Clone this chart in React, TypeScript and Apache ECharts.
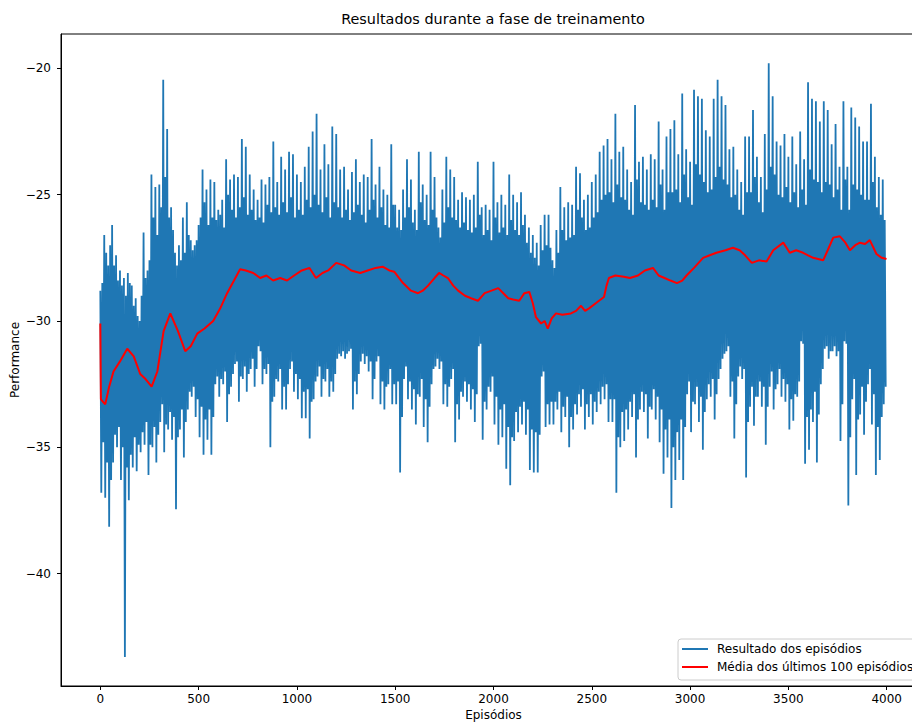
import React, { useEffect, useRef } from 'react';
import * as echarts from 'echarts';

const chartTitle = 'Resultados durante a fase de treinamento';
const xAxisName = 'Episódios';
const yAxisName = 'Performance';
const seriesNames = ['Resultado dos episódios', 'Média dos últimos 100 episódios'];

const xTicks = [0, 500, 1000, 1500, 2000, 2500, 3000, 3500, 4000];
const yTicks = [-40, -35, -30, -25, -20];

// Blue series readings, one group of four per 20 episodes:
// highA at ep 20i, lowA at 20i+5, highB at 20i+10, lowB at 20i+15
const blueStep = 20;
const highA = [
  -28.8, -26.6, -27.8, -26.2, -27.4,
  -28.0, -28.3, -28.1, -28.6, -29.1,
  -30.0, -26.5, -28.0, -24.2, -24.7,
  -24.6, -20.45, -22.4, -25.5, -27.3,
  -27.0, -25.9, -25.3, -26.8, -27.0,
  -26.2, -24.0, -24.8, -24.4, -24.5,
  -25.6, -25.2, -23.6, -24.4, -24.2,
  -24.3, -22.8, -23.1, -24.2, -24.8,
  -25.2, -24.4, -24.6, -24.3, -22.9,
  -24.5, -23.5, -24.0, -23.3, -23.4,
  -24.2, -24.5, -23.9, -23.1, -22.5,
  -21.8, -24.0, -23.0, -23.8, -22.3,
  -22.6, -24.0, -23.9, -24.8, -24.1,
  -23.6, -24.5, -24.2, -24.3, -22.8,
  -24.6, -23.9, -24.8, -25.0, -23.0,
  -25.4, -25.6, -24.8, -23.6, -24.4,
  -25.6, -23.3, -24.6, -25.0, -23.3,
  -24.3, -26.3, -24.8, -23.5, -24.0,
  -24.3, -25.2, -24.9, -25.1, -25.2,
  -25.0, -23.7, -25.5, -25.4, -25.6,
  -23.7, -25.3, -25.0, -25.4, -24.2,
  -25.0, -25.3, -24.9, -25.8, -26.3,
  -26.6, -26.9, -26.2, -25.8, -25.8,
  -27.6, -26.4, -24.7, -25.5, -25.3,
  -25.4, -23.9, -24.15, -25.2, -25.0,
  -24.5, -24.2, -23.3, -23.05, -22.8,
  -23.6, -21.8, -23.3, -23.1, -24.0,
  -24.5, -21.45, -23.7, -23.5, -24.0,
  -23.4, -23.6, -22.1, -24.0, -22.7,
  -22.4, -22.05, -23.4, -21.0, -23.2,
  -23.7, -20.85, -21.1, -21.2, -22.45,
  -22.7, -21.2, -20.45, -21.1, -21.45,
  -23.2, -23.1, -24.0, -24.5, -22.7,
  -22.7, -21.65, -23.5, -24.3, -22.6,
  -19.8, -21.1, -22.9, -23.05, -22.6,
  -23.5, -22.7, -23.8, -22.5, -23.6,
  -20.55, -21.2, -21.3, -22.1, -21.3,
  -21.65, -23.0, -22.2, -23.9, -21.3,
  -23.9, -21.55, -21.95, -22.3, -22.9,
  -22.9, -21.4, -23.5, -24.3, -24.4,
];
const lowA = [
  -36.8, -37.0, -38.15, -35.6, -35.0,
  -36.3, -43.3, -37.1, -35.8, -35.95,
  -35.2, -34.9, -36.1, -35.0, -35.6,
  -34.0, -35.2, -34.3, -34.7, -37.45,
  -34.3, -35.4, -33.5, -33.0, -33.8,
  -34.6, -35.3, -34.7, -35.3, -32.5,
  -33.0, -32.5, -34.0, -32.6, -31.7,
  -33.2, -32.3, -32.8, -31.9, -32.6,
  -31.0, -32.5, -32.1, -35.0, -33.0,
  -32.4, -33.5, -33.5, -31.9, -32.8,
  -33.1, -33.85, -33.85, -34.65, -33.1,
  -32.2, -33.0, -32.4, -33.0, -32.8,
  -31.5, -31.4, -31.5, -31.2, -33.5,
  -32.9, -31.6, -31.7, -32.0, -33.1,
  -31.6, -33.3, -33.5, -32.5, -33.3,
  -33.3, -36.0, -32.3, -33.1, -33.5,
  -34.1, -33.0, -34.2, -34.8, -32.5,
  -31.8, -31.9, -33.3, -33.4, -32.3,
  -34.8, -33.9, -33.0, -33.2, -33.5,
  -34.0, -31.0, -34.7, -33.5, -32.8,
  -34.1, -34.9, -34.6, -35.85, -36.5,
  -34.75, -34.4, -34.1, -34.5, -35.9,
  -36.0, -36.0, -32.2, -34.2, -34.1,
  -34.1, -33.5, -34.4, -33.8, -35.0,
  -34.3, -33.7, -33.4, -34.3, -33.8,
  -34.1, -33.6, -33.3, -33.1, -34.0,
  -34.0, -36.8, -35.0, -34.75, -34.3,
  -33.8, -35.4, -33.5, -33.6, -34.65,
  -33.5, -33.9, -34.8, -36.05, -35.4,
  -37.4, -36.3, -35.5, -36.3, -32.9,
  -34.4, -33.3, -34.0, -35.1, -33.1,
  -33.0, -33.9, -32.3, -31.5, -31.2,
  -33.0, -34.65, -32.2, -32.3, -36.2,
  -33.4, -34.15, -33.0, -33.4, -34.9,
  -32.6, -33.5, -32.5, -33.0, -33.2,
  -34.3, -33.95, -33.0, -30.8, -35.65,
  -35.1, -34.0, -35.6, -32.5, -31.1,
  -31.5, -31.2, -31.4, -34.75, -30.8,
  -37.3, -33.1, -36.1, -33.7, -34.5,
  -32.5, -34.1, -36.1, -35.5, -33.3,
];
const highB = [
  -28.5, -27.3, -27.0, -27.8, -28.4,
  -28.6, -29.0, -28.5, -29.4, -29.8,
  -29.0, -28.3, -27.6, -25.9, -26.6,
  -25.5, -24.3, -25.9, -26.4, -27.8,
  -27.6, -27.3, -26.6, -27.2, -26.8,
  -25.9, -25.3, -26.2, -25.9, -26.0,
  -25.8, -26.3, -25.0, -25.6, -25.9,
  -25.5, -25.1, -25.8, -25.6, -26.0,
  -25.9, -26.1, -25.4, -25.7, -25.5,
  -25.8, -25.3, -25.7, -25.1, -25.9,
  -25.6, -25.8, -25.2, -25.5, -25.0,
  -25.4, -25.7, -25.1, -25.9, -25.3,
  -25.5, -25.9, -25.6, -26.0, -25.7,
  -25.4, -25.8, -26.1, -25.6, -25.2,
  -25.9, -25.5, -26.2, -26.3, -25.4,
  -26.3, -26.4, -25.9, -25.5, -26.1,
  -26.4, -25.3, -26.0, -26.2, -25.6,
  -25.9, -26.7, -26.1, -25.5, -25.9,
  -26.0, -26.3, -26.1, -26.4, -26.5,
  -26.3, -25.8, -26.6, -26.4, -26.8,
  -25.9, -26.5, -26.3, -26.6, -26.0,
  -26.4, -26.6, -26.2, -26.9, -27.3,
  -27.5, -27.8, -27.2, -27.0, -27.1,
  -27.9, -27.3, -26.4, -26.8, -26.7,
  -26.6, -25.6, -25.9, -26.4, -26.3,
  -25.9, -25.7, -25.2, -25.0, -24.9,
  -25.3, -24.6, -25.1, -25.2, -25.6,
  -25.8, -24.4, -25.3, -25.4, -25.6,
  -25.2, -25.5, -24.6, -25.6, -24.9,
  -24.9, -24.8, -25.3, -24.2, -25.1,
  -25.4, -23.8, -24.2, -24.5, -24.9,
  -24.8, -24.3, -23.9, -24.4, -24.6,
  -25.1, -25.0, -25.6, -25.8, -24.9,
  -24.9, -24.3, -25.3, -25.7, -24.8,
  -23.9, -24.2, -25.0, -25.1, -24.7,
  -25.3, -24.9, -25.5, -24.8, -25.4,
  -24.0, -24.4, -24.5, -24.9, -24.5,
  -24.6, -25.1, -24.8, -25.6, -24.4,
  -25.6, -24.6, -24.8, -25.0, -25.2,
  -25.2, -24.5, -25.5, -25.8, -26.0,
];
const lowB = [
  -34.8, -35.6, -36.3, -34.5, -34.2,
  -35.0, -35.8, -35.3, -34.6, -34.9,
  -34.4, -34.0, -34.9, -34.2, -34.5,
  -33.3, -34.1, -33.6, -33.8, -34.6,
  -33.5, -34.0, -32.8, -32.6, -33.1,
  -33.4, -33.9, -33.5, -33.8, -32.2,
  -32.3, -32.0, -32.9, -32.1, -31.6,
  -32.2, -31.8, -32.1, -31.5, -31.9,
  -31.2, -31.9, -31.7, -33.2, -32.3,
  -31.9, -32.6, -32.5, -31.6, -32.1,
  -32.3, -32.8, -32.7, -33.2, -32.4,
  -31.8, -32.3, -31.9, -32.4, -32.1,
  -31.3, -31.2, -31.3, -31.1, -32.4,
  -32.1, -31.3, -31.4, -31.6, -32.3,
  -31.4, -32.4, -32.6, -31.9, -32.5,
  -32.4, -33.8, -31.8, -32.4, -32.7,
  -32.9, -32.3, -33.1, -33.4, -31.9,
  -31.5, -31.6, -32.5, -32.6, -31.9,
  -33.3, -32.8, -32.4, -32.5, -32.7,
  -32.9, -30.9, -33.2, -32.6, -32.2,
  -33.0, -33.5, -33.3, -34.2, -34.6,
  -33.6, -33.4, -33.2, -33.5, -34.3,
  -34.4, -34.5, -32.0, -33.3, -33.2,
  -33.2, -32.8, -33.4, -33.0, -33.8,
  -33.3, -32.9, -32.7, -33.3, -32.9,
  -33.2, -32.8, -32.6, -32.5, -33.1,
  -33.1, -34.6, -33.6, -33.5, -33.2,
  -32.9, -33.9, -32.8, -32.9, -33.4,
  -32.7, -33.0, -33.5, -34.3, -33.9,
  -35.0, -34.4, -33.9, -34.2, -32.4,
  -33.2, -32.6, -33.0, -33.6, -32.5,
  -32.3, -32.9, -31.9, -31.3, -31.0,
  -32.4, -33.3, -31.8, -31.9, -34.0,
  -32.6, -33.0, -32.4, -32.6, -33.4,
  -32.0, -32.7, -31.9, -32.3, -32.5,
  -33.1, -32.9, -32.4, -30.9, -33.8,
  -33.5, -32.8, -33.7, -31.9, -31.0,
  -31.2, -31.0, -31.2, -33.3, -30.9,
  -34.6, -32.3, -33.9, -32.6, -33.2,
  -31.9, -32.9, -34.2, -33.8, -32.6,
];

// Red series (moving average) readings
const redEpisodes = [
  0, 3, 25, 45, 67, 100, 137, 170, 203, 230, 261, 290, 322, 356, 395, 432, 460, 493, 530, 574,
  610, 645, 680, 711, 740, 778, 813, 845, 879, 915, 950, 986, 1025, 1064, 1097, 1130, 1159, 1200, 1240, 1276,
  1322, 1360, 1400, 1436, 1470, 1495, 1520, 1540, 1580, 1616, 1640, 1667, 1700, 1723, 1745, 1768, 1795, 1820, 1855, 1886,
  1921, 1955, 1990, 2024, 2050, 2075, 2100, 2131, 2157, 2182, 2200, 2216, 2242, 2260, 2276, 2296, 2318, 2350, 2394, 2420,
  2445, 2466, 2486, 2520, 2562, 2575, 2587, 2620, 2663, 2694, 2735, 2770, 2811, 2840, 2870, 2900, 2933, 2960, 2982, 3020,
  3066, 3100, 3134, 3180, 3218, 3252, 3280, 3314, 3350, 3389, 3423, 3474, 3507, 3540, 3575, 3600, 3626, 3677, 3700, 3728,
  3762, 3790, 3813, 3840, 3864, 3890, 3914, 3948, 3975, 3999,
];
const redValues = [
  -30.1, -33.1, -33.3, -32.6, -32.0, -31.6, -31.1, -31.4, -32.1, -32.3, -32.6, -32.0, -30.4, -29.7, -30.4, -31.2, -31.0, -30.5, -30.3, -30.0,
  -29.5, -28.9, -28.4, -27.95, -28.0, -28.1, -28.3, -28.2, -28.4, -28.3, -28.4, -28.2, -28.0, -27.9, -28.3, -28.1, -28.0, -27.7, -27.8, -28.0,
  -28.1, -28.0, -27.9, -27.85, -28.0, -28.05, -28.3, -28.5, -28.8, -28.9, -28.8, -28.6, -28.3, -28.1, -28.2, -28.3, -28.6, -28.8, -29.0, -29.1,
  -29.2, -28.9, -28.8, -28.7, -28.9, -29.1, -29.15, -29.2, -28.9, -28.85, -29.3, -29.85, -30.1, -30.0, -30.3, -29.9, -29.7, -29.75, -29.7, -29.6,
  -29.4, -29.6, -29.5, -29.3, -29.05, -28.6, -28.3, -28.2, -28.25, -28.3, -28.2, -28.0, -27.9, -28.2, -28.3, -28.4, -28.5, -28.4, -28.2, -27.9,
  -27.5, -27.4, -27.3, -27.2, -27.1, -27.2, -27.4, -27.7, -27.6, -27.65, -27.2, -26.9, -27.3, -27.2, -27.3, -27.4, -27.5, -27.6, -27.2, -26.7,
  -26.65, -26.9, -27.2, -27.0, -26.9, -26.95, -26.8, -27.35, -27.5, -27.55,
];

const FONT = 'DejaVu Sans';
const fmtMinus = (v: number) => (v < 0 ? '\u2212' + String(Math.abs(v)) : String(v));

export default function App() {
  const ref = useRef<HTMLDivElement>(null);
  useEffect(() => {
    document.body.style.margin = '0';
    if (!ref.current) return;
    const chart = echarts.init(ref.current, null, { renderer: 'svg' });

    const blueData: number[][] = [];
    for (let i = 0; i < highA.length; i++) {
      const e = i * blueStep;
      blueData.push([e, highA[i]]);
      blueData.push([e + 5, lowA[i]]);
      blueData.push([e + 10, highB[i]]);
      blueData.push([e + 15, lowB[i]]);
    }
    const redData = redEpisodes.map((e, i) => [e, redValues[i]]);

    chart.setOption({
      animation: false,
      backgroundColor: '#ffffff',
      title: {
        text: chartTitle,
        left: 493,
        top: 12,
        textAlign: 'center',
        padding: 0,
        textStyle: { fontFamily: FONT, fontSize: 14.4, fontWeight: 'normal', color: '#000' },
      },
      grid: {
        left: 61,
        top: 34,
        width: 865,
        height: 652,
        outerBoundsMode: 'none',
        containLabel: false,
        show: true,
        borderColor: '#000',
        borderWidth: 1,
        backgroundColor: 'transparent',
      },
      legend: {
        left: 678,
        top: 639,
        orient: 'vertical',
        padding: [4, 6, 7, 4],
        itemWidth: 26,
        itemHeight: 2,
        itemGap: 6,
        icon: 'rect',
        backgroundColor: 'rgba(255,255,255,0.85)',
        borderColor: '#cccccc',
        borderWidth: 1,
        borderRadius: 3,
        textStyle: { fontFamily: FONT, fontSize: 12, color: '#000', padding: [0, 0, 0, 4] },
        data: seriesNames,
      },
      xAxis: {
        type: 'value',
        min: -200,
        max: 4200,
        name: xAxisName,
        nameLocation: 'middle',
        nameGap: 23,
        nameMoveOverlap: false,
        nameTextStyle: { fontFamily: FONT, fontSize: 12, color: '#000' },
        axisLine: { show: true, onZero: false, lineStyle: { color: '#000', width: 1 } },
        axisTick: { show: true, length: 4, lineStyle: { color: '#000' }, customValues: xTicks },
        axisLabel: {
          fontFamily: FONT, fontSize: 12, color: '#000', margin: 7,
          customValues: xTicks, formatter: (v: number) => String(v),
        },
        splitLine: { show: false },
      },
      yAxis: {
        type: 'value',
        min: -44.45,
        max: -18.64,
        name: yAxisName,
        nameLocation: 'middle',
        nameGap: 40,
        nameMoveOverlap: false,
        nameRotate: 90,
        nameTextStyle: { fontFamily: FONT, fontSize: 12, color: '#000' },
        axisLine: { show: true, onZero: false, lineStyle: { color: '#000', width: 1 } },
        axisTick: { show: true, length: 4, lineStyle: { color: '#000' }, customValues: yTicks },
        axisLabel: {
          fontFamily: FONT, fontSize: 12, color: '#000', margin: 10,
          customValues: yTicks, formatter: (v: number) => fmtMinus(v),
        },
        splitLine: { show: false },
      },
      series: [
        {
          name: seriesNames[0],
          type: 'line',
          data: blueData,
          symbol: 'none',
          silent: true,
          lineStyle: { color: '#1f77b4', width: 1.8 },
          itemStyle: { color: '#1f77b4' },
          z: 2,
        },
        {
          name: seriesNames[1],
          type: 'line',
          data: redData,
          symbol: 'none',
          silent: true,
          lineStyle: { color: '#ff0000', width: 2 },
          itemStyle: { color: '#ff0000' },
          z: 3,
        },
      ],
    });
    return () => chart.dispose();
  }, []);
  return (
    <div
      ref={ref}
      style={{ position: 'fixed', left: 0, top: 0, width: 912, height: 722, background: '#fff' }}
    />
  );
}
